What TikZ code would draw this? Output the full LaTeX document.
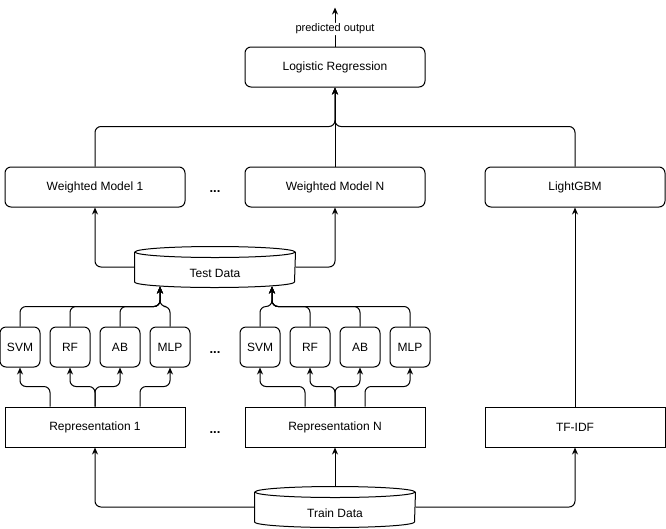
\documentclass[tikz,border=0pt]{standalone}
\usepackage{fontspec}
\setmainfont{Liberation Sans}
\usetikzlibrary{arrows.meta}
\newcommand{\drawcyl}[1]{%
  \draw ([yshift=-5.5pt]#1.north west) -- ([yshift=5.5pt]#1.south west)
    arc[start angle=180,end angle=360,x radius=80pt,y radius=5.5pt]
    -- ([yshift=-5.5pt]#1.north east);
  \draw ([yshift=-5.5pt]#1.north) ellipse[x radius=80pt,y radius=5.5pt];}
\begin{document}
\begin{tikzpicture}[x=1pt,y=-1pt,line width=1pt,
  box/.style={draw,minimum width=180pt,minimum height=40pt,inner sep=0pt,font=\fontsize{12}{14}\selectfont},
  rbox/.style={box,rounded corners=6pt},
  cls/.style={draw,rounded corners=6pt,minimum width=40pt,minimum height=40pt,inner sep=0pt,font=\fontsize{12}{14}\selectfont},
  db/.style={minimum width=160pt,minimum height=40pt,inner sep=0pt},
  lbl/.style={inner sep=0pt,font=\fontsize{12}{14}\selectfont},
  arr/.style={-{Stealth[length=7pt,width=6pt]},rounded corners=6pt},
  dots/.style={font=\bfseries\fontsize{13}{15}\selectfont}]
\useasboundingbox (0,0) rectangle (666,528);

% top
\node[rbox] (lr) at (335,67) {Logistic Regression};
\node[rbox] (wm1) at (95,187) {Weighted Model 1};
\node[rbox] (wmn) at (335,187) {Weighted Model N};
\node[rbox] (lgb) at (575,187) {LightGBM};
\node[dots] (d1) at (215,192) {...};

% test data
\node[db] (test) at (215,267) {};
\drawcyl{test}
\node[lbl] (testlbl) at (215,273) {Test Data};

% classifiers
\node[cls] (s1) at (20,347) {SVM};
\node[cls] (r1) at (70,347) {RF};
\node[cls] (a1) at (120,347) {AB};
\node[cls] (m1) at (170,347) {MLP};
\node[dots] (d2) at (215,353) {...};
\node[cls] (s2) at (260,347) {SVM};
\node[cls] (r2) at (310,347) {RF};
\node[cls] (a2) at (360,347) {AB};
\node[cls] (m2) at (410,347) {MLP};

% representations
\node[box] (rep1) at (95,427) {Representation 1};
\node[dots] (d3) at (215,433) {...};
\node[box] (repn) at (335,427) {Representation N};
\node[box] (tfidf) at (575,427) {TF-IDF};

% train data
\node[db] (train) at (335,507) {};
\drawcyl{train}
\node[lbl] (trainlbl) at (335,513) {Train Data};

% connectors
\draw[arr] (lr.north) -- ++(0,-39)
  node[midway,yshift=-2pt,fill=white,inner sep=1pt,font=\fontsize{11}{13}\selectfont] (po) {predicted output};
\draw[arr] (wm1.north) -- ++(0,-40) -| (lr.south);
\draw[arr] (wmn.north) -- (lr.south);
\draw[arr] (lgb.north) -- ++(0,-40) -| (lr.south);

\draw[arr] (test.west) -| (wm1.south);
\draw[arr] (test.east) -| (wmn.south);

\foreach \n in {s1,r1,a1,m1}
  \draw[arr] (\n.north) -- ++(0,-20) -| ([xshift=-55pt,yshift=1pt]test.south);
\foreach \n in {s2,r2,a2,m2}
  \draw[arr] (\n.north) -- ++(0,-20) -| ([xshift=57pt,yshift=1pt]test.south);

\draw[arr] ([xshift=-45pt]rep1.north) -- ++(0,-20) -| (s1.south);
\draw[arr] (rep1.north) -- ++(0,-20) -| (r1.south);
\draw[arr] (rep1.north) -- ++(0,-20) -| (a1.south);
\draw[arr] ([xshift=45pt]rep1.north) -- ++(0,-20) -| (m1.south);

\draw[arr] ([xshift=-30pt]repn.north) -- ++(0,-20) -| (s2.south);
\draw[arr] (repn.north) -- ++(0,-20) -| (r2.south);
\draw[arr] (repn.north) -- ++(0,-20) -| (a2.south);
\draw[arr] ([xshift=30pt]repn.north) -- ++(0,-20) -| (m2.south);

\draw[arr] (tfidf.north) -- (lgb.south);

\draw[arr] (train.west) -| (rep1.south);
\draw[arr] (train.north) -- (repn.south);
\draw[arr] (train.east) -| (tfidf.south);
\end{tikzpicture}
\end{document}
